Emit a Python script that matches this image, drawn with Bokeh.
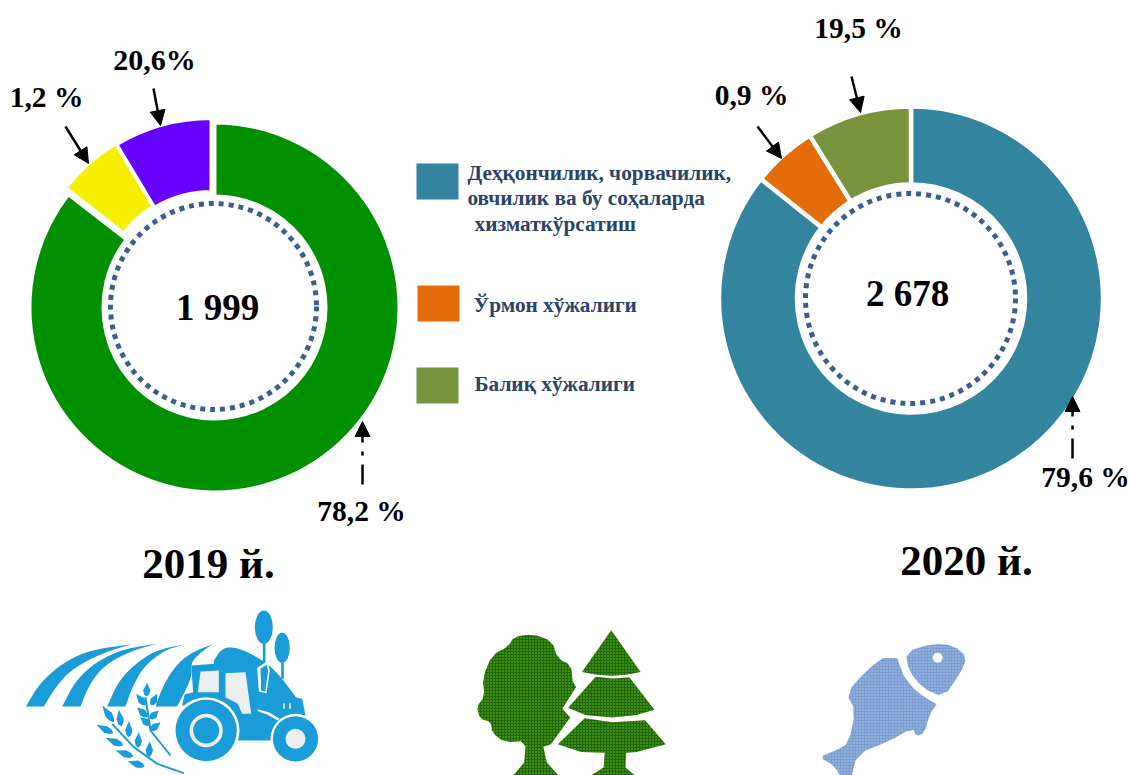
from bokeh.embed import file_html
from bokeh.resources import INLINE
from bokeh.plotting import figure
from bokeh.models import Arrow, NormalHead
from bokeh.core.properties import value
import numpy as np

W, H = 1130, 775
SERIF = value("Liberation Serif")

# ---- data (drawn shares of the rings, clockwise from 12 o'clock) ----
segments = ["Деҳқончилик, чорвачилик, овчилик", "Ўрмон хўжалиги", "Балиқ хўжалиги"]
shares_2019 = [85.5, 5.9, 8.6]
shares_2020 = [85.7, 5.45, 8.85]
colors_2019 = ["#009000", "#F5F000", "#6600FF"]
colors_2020 = ["#33849F", "#E46C0A", "#77933C"]
labels_2019 = ["78,2 %", "1,2 %", "20,6%"]
labels_2020 = ["79,6 %", "0,9 %", "19,5 %"]
total_2019 = "1 999"
total_2020 = "2 678"
year_2019 = "2019 й."
year_2020 = "2020 й."
legend_lines = ["Деҳқончилик, чорвачилик,", "овчилик ва бу соҳаларда", "хизматкўрсатиш"]
legend_2 = "Ўрмон хўжалиги"
legend_3 = "Балиқ хўжалиги"

p = figure(width=W, height=H, x_range=(0, W), y_range=(0, H), output_backend="svg",
           toolbar_location=None, x_axis_location=None, y_axis_location=None,
           min_border=0, outline_line_color=None, background_fill_color="white")
p.grid.visible = False


def Y(sy):
    return H - np.asarray(sy, dtype=float)


def ring(shares, colors, centers, r_in, r_out, lw):
    s = np.array(shares, dtype=float)
    f1 = np.cumsum(s) / s.sum()
    f0 = np.concatenate([[0], f1[:-1]])
    p.annular_wedge(x=[c[0] for c in centers], y=list(Y([c[1] for c in centers])),
                    inner_radius=r_in, outer_radius=r_out,
                    start_angle=list(np.pi / 2 - 2 * np.pi * f1), end_angle=list(np.pi / 2 - 2 * np.pi * f0),
                    fill_color=colors, line_color="white", line_width=lw)


ring(shares_2019, colors_2019, [(214, 307), (211, 301), (211, 302.5)], 111, 185, 4)
ring(shares_2020, colors_2020, [(910.5, 298), (910.5, 298), (910.5, 298)], 114, 192, 4.5)

for cx, cy, r in [(213, 306, 103), (910, 298, 105)]:
    p.circle(x=[cx], y=list(Y([cy])), radius=r, fill_alpha=0, line_color="#3A5F8E", line_width=5, line_dash="5 5")


def arrow(x0, y0, x1, y1, dash="solid"):
    p.add_layout(Arrow(x_start=x0, y_start=float(Y(y0)), x_end=x1, y_end=float(Y(y1)),
                       line_color="black", line_width=2.5, line_dash=dash,
                       end=NormalHead(size=15, fill_color="black", line_color="black", line_width=1)))


arrow(153, 88, 160, 125)
arrow(65, 126, 88, 163)
arrow(851, 76, 860, 112)
arrow(757, 126, 781, 158)
arrow(362, 484, 362, 421, "20 9 4 9")
arrow(1072, 458, 1072, 396, "20 9 4 9")


def txt(x, y, s, size, color="black", align="center"):
    p.text(x=[x], y=list(Y([y])), text=[s], text_font=SERIF, text_font_style="bold",
           text_font_size=size, text_color=color, text_align=align, text_baseline="middle")


LB = "29.5px"
txt(154, 58.5, labels_2019[2], "30px")
txt(46, 96.5, labels_2019[1], LB)
txt(361, 510.5, labels_2019[0], LB)
txt(858, 27.5, labels_2020[2], LB)
txt(751, 94.5, labels_2020[1], LB)
txt(1085, 476.5, labels_2020[0], LB)
txt(217, 307, total_2019, "37px")
txt(907, 293, total_2020, "37px")
txt(208, 562.5, year_2019, "43px")
txt(966, 559.5, year_2020, "43px")

# legend
NAVY = "#2A4468"
p.quad(left=[416, 417, 416], right=[458, 459, 458], top=list(Y([163, 285, 367])), bottom=list(Y([199, 321, 403])),
       fill_color=colors_2020, line_color=None)
LG = "21.3px"
txt(467, 172.5, legend_lines[0], LG, NAVY, "left")
txt(467, 197.5, legend_lines[1], LG, NAVY, "left")
txt(474, 223.5, legend_lines[2], LG, NAVY, "left")
txt(473, 304, legend_2, LG, NAVY, "left")
txt(474, 383, legend_3, LG, NAVY, "left")

# ---- icons ----
BLUE = "#1A9CD8"
GRAY = "#ECEEF0"


def chaikin(pts, n=2, closed=True):
    a = np.array(pts, dtype=float)
    for _ in range(n):
        if closed:
            b = np.roll(a, -1, axis=0)
            a = np.stack([0.75 * a + 0.25 * b, 0.25 * a + 0.75 * b], axis=1).reshape(-1, 2)
        else:
            b = a[1:]
            c = a[:-1]
            mid = np.stack([0.75 * c + 0.25 * b, 0.25 * c + 0.75 * b], axis=1).reshape(-1, 2)
            a = np.vstack([a[:1], mid, a[-1:]])
    return a


def poly(pts, ox, oy, k, **kw):
    a = np.array(pts, dtype=float)
    p.patch(x=list(ox + a[:, 0] * k), y=list(Y(oy + a[:, 1] * k)), **kw)


def tp(pts, color=BLUE):
    poly(pts, 0, 590, 1 / 3, fill_color=color, line_color=None)


def stripe(outer, inner):
    tp(np.vstack([chaikin(outer, 3, False), chaikin(inner, 3, False)]))


def circ(x, y, r, color):
    p.circle(x=[x / 3], y=list(Y([590 + y / 3])), radius=r / 3, fill_color=color, line_color=None)


def ell(x, y, w, h, ang, color=BLUE):
    p.ellipse(x=[x / 3], y=list(Y([590 + y / 3])), width=w / 3, height=h / 3, angle=np.deg2rad(ang),
              fill_color=color, line_color=None)


def grain(x0, y0, x1, y1, w=22):
    t = np.array([x0, y0], dtype=float)
    b = np.array([x1, y1], dtype=float)
    d = b - t
    nrm = np.array([-d[1], d[0]]) / np.hypot(*d)
    pts = [t, t + 0.55 * d + nrm * w / 2, t + 0.85 * d + nrm * w / 3, b, t + 0.85 * d - nrm * w / 3, t + 0.55 * d - nrm * w / 2]
    tp(pts)


stripe([(76, 348), (120, 275), (190, 215), (270, 178), (390, 162)], [(390, 162), (300, 190), (215, 235), (165, 290), (130, 348)])
stripe([(185, 348), (225, 270), (290, 212), (370, 175), (468, 160)], [(468, 160), (390, 182), (310, 225), (265, 285), (240, 348)])
stripe([(320, 348), (355, 270), (410, 215), (470, 178), (550, 162)], [(550, 162), (490, 180), (430, 228), (395, 290), (375, 348)])
stripe([(465, 348), (490, 280), (530, 220), (575, 185), (635, 162)], [(635, 162), (595, 190), (570, 220), (575, 260), (530, 348)])
tp(np.vstack([chaikin([(640, 210), (665, 172), (710, 170), (780, 205), (830, 245), (890, 325)], 2, False), [(640, 340)]]))
ell(790, 110, 54, 100, 0)
ell(845, 172, 46, 90, 0)
tp([(787, 150), (795, 150), (795, 220), (787, 220)])
tp([(842, 210), (850, 210), (850, 265), (842, 265)])
tp([(572, 225), (745, 212), (760, 225), (775, 300), (905, 325), (915, 375), (840, 385), (815, 450), (700, 450),
    (690, 350), (545, 345), (552, 312), (578, 305)])
tp([(770, 232), (800, 212), (808, 240), (798, 308), (775, 303)], "#FFFFFF")
tp([(780, 235), (798, 222), (803, 240), (794, 304), (782, 300)])
tp([(600, 243), (655, 240), (655, 305), (592, 305)], GRAY)
tp([(675, 248), (735, 245), (752, 370), (725, 370), (712, 340), (675, 320)], GRAY)
tp([(772, 356), (805, 365), (838, 385), (832, 390), (800, 372), (772, 362)], "#FFFFFF")
tp([(848, 338), (853, 338), (853, 355), (848, 355)], GRAY)
tp([(866, 338), (871, 338), (871, 355), (866, 355)], GRAY)
circ(617, 420, 100, "#FFFFFF")
circ(617, 420, 92, BLUE)
circ(617, 420, 50, GRAY)
circ(617, 420, 39, BLUE)
circ(885, 445, 75, "#FFFFFF")
circ(885, 445, 68, BLUE)
circ(885, 445, 30, GRAY)
p.line(x=list(np.array([335, 400, 470, 550]) / 3), y=list(Y(590 + np.array([400, 470, 520, 548]) / 3)),
       line_color=BLUE, line_width=2)
p.line(x=list(np.array([435, 450, 510]) / 3), y=list(Y(590 + np.array([320, 420, 495]) / 3)),
       line_color=BLUE, line_width=2)
for g in [(305, 345, 340, 395), (355, 358, 362, 408), (385, 392, 385, 440), (415, 425, 412, 472), (448, 452, 445, 500),
          (288, 403, 338, 428), (315, 442, 368, 465), (345, 480, 398, 498), (382, 512, 432, 528),
          (440, 277, 438, 318), (470, 310, 452, 345), (475, 360, 448, 385), (480, 395, 450, 420),
          (407, 310, 435, 345), (410, 350, 440, 380), (420, 380, 448, 405)]:
    grain(*g)

K = 0.345
TREE = dict(fill_color="#1F6606", line_color=None, hatch_pattern="dot", hatch_color="#6FCF1A", hatch_scale=3, hatch_weight=1)
poly(np.vstack([chaikin([(185, 440), (190, 378), (128, 382), (92, 355), (88, 322), (58, 315), (46, 280), (70, 250), (64, 195),
      (92, 128), (138, 105), (155, 76), (210, 68), (265, 88), (282, 140), (320, 158), (325, 205)], 1, False),
      [(335, 222), (295, 285), (318, 310), (262, 388), (240, 395), (250, 440), (287, 482), (150, 482)]]), 460, 610, K, **TREE)
poly([(437, 57), (522, 178), (480, 186), (440, 189), (395, 186), (352, 178)], 460, 610, K, **TREE)
poly([(392, 192), (440, 197), (490, 194), (562, 288), (510, 303), (440, 310), (362, 303), (312, 282)], 460, 610, K, **TREE)
poly([(360, 312), (440, 324), (535, 318), (595, 388), (510, 410), (480, 412), (478, 455), (510, 482), (372, 482), (415, 455),
      (418, 412), (350, 410), (282, 388)], 460, 610, K, **TREE)

FISH = dict(fill_color="#7C9FCF", line_color=None, hatch_pattern="dot", hatch_color="#A9C8EC", hatch_scale=3, hatch_weight=1)
poly(chaikin([(1290, 120), (1370, 95), (1430, 102), (1468, 135), (1450, 180), (1400, 252), (1340, 225), (1300, 175)], 1), 460, 610, K, **FISH)
poly(np.vstack([[(1265, 138)], chaikin([(1285, 190), (1320, 235), (1380, 272)], 1, False), chaikin([(1380, 272), (1360, 300), (1345, 355), (1322, 365), (1310, 340), (1240, 380),
      (1150, 415), (1130, 495), (1110, 500), (1085, 450), (1038, 425), (1090, 405), (1125, 385), (1145, 290), (1118, 240),
      (1180, 170), (1225, 138)], 1, False)]), 460, 610, K, **FISH)
p.circle(x=[460 + 1383 * K], y=list(Y([610 + 137 * K])), radius=5, fill_color="white", line_color=None)

open("out.html", "w").write(file_html(p, INLINE))
